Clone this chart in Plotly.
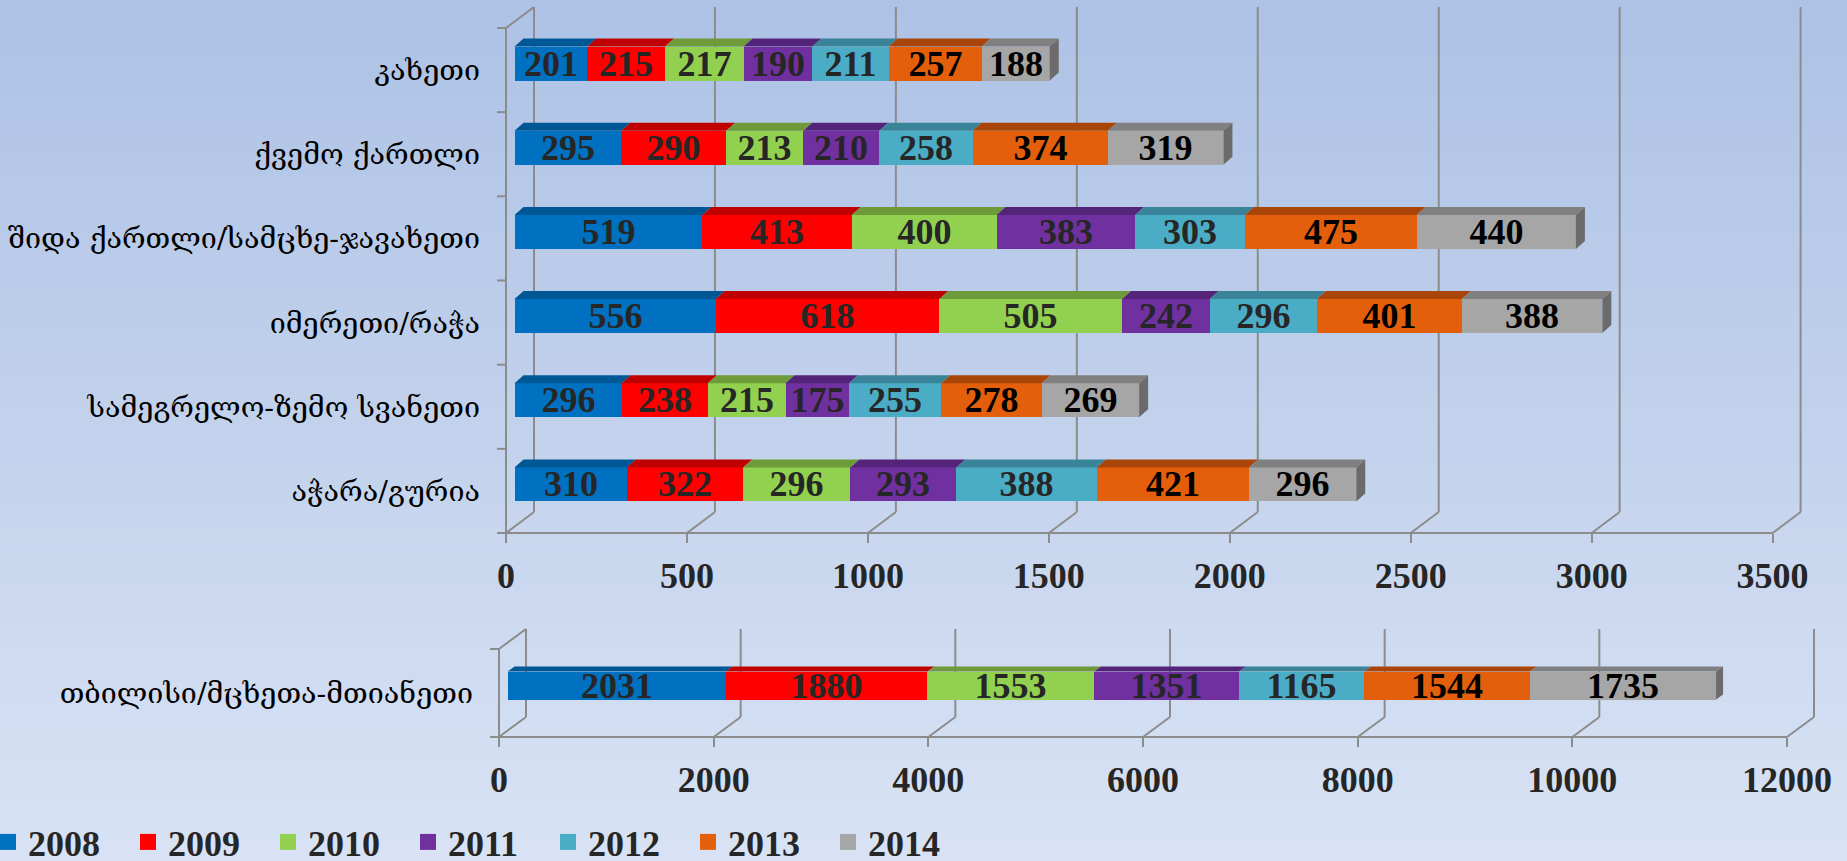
import plotly.graph_objects as go

# ---------------- data ----------------
regions = ["აჭარა/გურია", "სამეგრელო-ზემო სვანეთი", "იმერეთი/რაჭა",
           "შიდა ქართლი/სამცხე-ჯავახეთი", "ქვემო ქართლი", "კახეთი"]
years = ["2008", "2009", "2010", "2011", "2012", "2013", "2014"]
v2008 = [310, 296, 556, 519, 295, 201]
v2009 = [322, 238, 618, 413, 290, 215]
v2010 = [296, 215, 505, 400, 213, 217]
v2011 = [293, 175, 242, 383, 210, 190]
v2012 = [388, 255, 296, 303, 258, 211]
v2013 = [421, 278, 401, 475, 374, 257]
v2014 = [296, 269, 388, 440, 319, 188]
top_series = [v2008, v2009, v2010, v2011, v2012, v2013, v2014]

tbilisi_label = ["თბილისი/მცხეთა-მთიანეთი"]
tbilisi = [2031, 1880, 1553, 1351, 1165, 1544, 1735]
bottom_series = [[v] for v in tbilisi]

top_ticks = [0, 500, 1000, 1500, 2000, 2500, 3000, 3500]
bottom_ticks = [0, 2000, 4000, 6000, 8000, 10000, 12000]

# ---------------- style ----------------
face_colors = ["#0070C0", "#FF0000", "#92D050", "#7030A0", "#4BACC6", "#E35F0C", "#A6A6A6"]
top_colors = ["#005796", "#C00000", "#6E9A3A", "#53247A", "#3A8499", "#A94508", "#808080"]
side_color = "#6B6B6B"
label_colors = ["#262626", "#262626", "#262626", "#262626", "#262626", "#000000", "#000000"]
GRID = "#8C8C8C"
NUM_FONT = dict(family="Liberation Serif", size=36, color="#262626", weight="bold")
CAT_FONT = dict(family="DejaVu Serif", size=28.7, color="#000000")

W, H = 1847, 861

TOP = dict(xa="x", ya="y", xb="x2", yb="y2", x0=506, k=(1772.6 - 506) / 3500,
           base=533, cat=84.17, top=0, back=(28, 21), bar=(8.5, 6.5), thick=34, face=(9, 8))
BOT = dict(xa="x3", ya="y3", xb="x4", yb="y4", x0=499, k=1288 / 12000,
           base=737, cat=88.0, top=600, back=(27, 20), bar=(8.6, 7.5), thick=28, face=(7, 5))

fig = go.Figure()
shapes = []

# gradient background (decoration)
N = 44
c0 = (173, 194, 229)
c1 = (216, 226, 244)
for i in range(N):
    t = i / (N - 1)
    col = "rgb(%d,%d,%d)" % tuple(round(a + (b - a) * t) for a, b in zip(c0, c1))
    shapes.append(dict(type="rect", xref="paper", yref="paper", x0=0, x1=1,
                       y0=1 - (i + 1) / N - 0.002, y1=1 - i / N + 0.002,
                       fillcolor=col, line=dict(width=0), layer="below"))


def axkey(a):
    return ("xaxis" if a[0] == "x" else "yaxis") + a[1:]


def panel(P, cats, series, ticks):
    k, cat = P["k"], P["cat"]
    n = len(cats)
    left_px = P["x0"] - 30
    xr = [(left_px - P["x0"]) / k, (W - P["x0"]) / k]
    ybot_px = P["base"] + 12
    yr = [-0.5 - 12 / cat, -0.5 + (P["base"] - P["top"]) / cat]
    bdx, bdy = P["bar"]
    xr2 = [xr[0] - bdx / k, xr[1] - bdx / k]
    yr2 = [yr[0] - bdy / cat, yr[1] - bdy / cat]

    fig.layout[axkey(P["xa"])] = dict(
        domain=[left_px / W, 1], range=xr, anchor="free", position=1 - P["base"] / H,
        tickmode="array", tickvals=ticks, ticktext=[str(t) for t in ticks],
        ticks="outside", ticklen=9, tickwidth=2, tickcolor=GRID,
        showgrid=False, zeroline=False, showline=False, tickfont=NUM_FONT,
        ticklabelstandoff=2, fixedrange=True)
    fig.layout[axkey(P["ya"])] = dict(
        domain=[1 - ybot_px / H, 1 - P["top"] / H], range=yr, anchor="free",
        position=P["x0"] / W, tickmode="array", tickvals=list(range(n)), ticktext=cats,
        ticks="", showgrid=False, zeroline=False, showline=False, tickfont=CAT_FONT,
        ticklabelstandoff=26, fixedrange=True)
    fig.layout[axkey(P["xb"])] = dict(overlaying=P["xa"], range=xr2, visible=False,
                                      anchor=P["yb"], fixedrange=True)
    fig.layout[axkey(P["yb"])] = dict(overlaying=P["ya"], range=yr2, visible=False,
                                      anchor=P["xb"], fixedrange=True)

    # anchor trace for the frame subplot
    fig.add_trace(go.Scatter(x=[None], y=[None], xaxis=P["xa"], yaxis=P["ya"],
                             showlegend=False, hoverinfo="skip"))

    wbar = P["thick"] / cat
    for j, vals in enumerate(series):
        fig.add_trace(go.Bar(
            x=vals, y=list(range(n)), orientation="h", xaxis=P["xb"], yaxis=P["yb"],
            width=wbar, marker=dict(color=face_colors[j], line=dict(width=0)),
            text=[str(v) for v in vals], textposition="inside", insidetextanchor="middle",
            textangle=0, constraintext="none",
            textfont=dict(family="Liberation Serif", size=36, color=label_colors[j], weight="bold"),
            showlegend=False, hoverinfo="skip", name=years[j]))

    # 3D top faces and end faces
    fdx, fdy = P["face"][0] / k, P["face"][1] / cat
    for i in range(n):
        cum = 0
        yt = i + wbar / 2
        for j, vals in enumerate(series):
            a, b = cum, cum + vals[i]
            shapes.append(dict(type="path", xref=P["xb"], yref=P["yb"], layer="above",
                               path=f"M{a},{yt} L{b},{yt} L{b + fdx},{yt + fdy} L{a + fdx},{yt + fdy} Z",
                               fillcolor=top_colors[j], line=dict(width=0)))
            cum = b
        yb_ = i - wbar / 2
        shapes.append(dict(type="path", xref=P["xb"], yref=P["yb"], layer="above",
                           path=f"M{cum},{yb_} L{cum},{yt} L{cum + fdx},{yt + fdy} L{cum + fdx},{yb_ + fdy} Z",
                           fillcolor=side_color, line=dict(width=0)))

    # frame: front floor line, left wall, back gridlines
    bx, by = P["back"][0] / k, P["back"][1] / cat
    ln = dict(color=GRID, width=2)

    def seg(x0, y0, x1, y1):
        shapes.append(dict(type="line", xref=P["xa"], yref=P["ya"], x0=x0, y0=y0,
                           x1=x1, y1=y1, line=ln, layer="below"))

    top_y = n - 0.5
    seg(0, -0.5, ticks[-1], -0.5)
    seg(0, -0.5, 0, top_y)
    seg(0, top_y, bx, top_y + by)
    for b in [c - 0.5 for c in range(n + 1)]:
        seg(-9 / k, b, 0, b)
    for t in ticks:
        seg(t, -0.5, t + bx, -0.5 + by)
        seg(t + bx, -0.5 + by, t + bx, top_y + by)


panel(TOP, regions, top_series, top_ticks)
panel(BOT, tbilisi_label, bottom_series, bottom_ticks)

# legend entries
for j, yname in enumerate(years):
    fig.add_trace(go.Scatter(x=[None], y=[None], mode="markers", name=yname,
                             marker=dict(symbol="square", size=16, color=face_colors[j]),
                             xaxis="x", yaxis="y", hoverinfo="skip"))

fig.update_layout(
    width=W, height=H, autosize=False,
    margin=dict(l=0, r=0, t=0, b=0, pad=0, autoexpand=False),
    paper_bgcolor="#C3D2EC", plot_bgcolor="rgba(0,0,0,0)",
    barmode="stack", bargap=0,
    shapes=shapes,
    showlegend=True,
    legend=dict(orientation="h", x=0, y=1 - 842 / H, xanchor="left", yanchor="middle",
                traceorder="normal", indentation=-12,
                font=NUM_FONT, bgcolor="rgba(0,0,0,0)", entrywidth=107,
                entrywidthmode="pixels", itemclick=False, itemdoubleclick=False),
)

fig.write_html("out.html", config=dict(displayModeBar=False, responsive=False),
               post_script="document.body.style.margin='0';document.body.style.overflow='hidden';")
